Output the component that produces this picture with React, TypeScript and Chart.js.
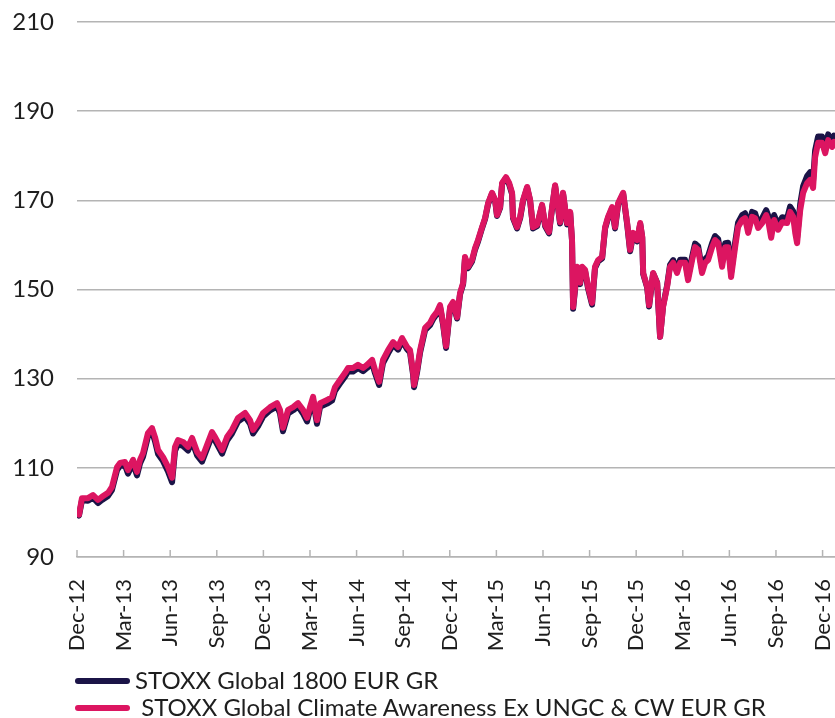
import React, { useEffect, useRef } from "react";
import { Chart, registerables } from "chart.js";

Chart.register(...registerables);

// Quarter tick labels (one every 3 months, starting Dec-12)
const quarterLabels = [
  "Dec-12", "Mar-13", "Jun-13", "Sep-13", "Dec-13", "Mar-14", "Jun-14", "Sep-14",
  "Dec-14", "Mar-15", "Jun-15", "Sep-15", "Dec-15", "Mar-16", "Jun-16", "Sep-16", "Dec-16",
];

// Time position of each observation, in months since Dec-12
const months = [
  0.00, 0.13, 0.32, 0.71, 1.03, 1.35, 1.61, 2.00, 2.25, 2.58, 2.77, 3.09, 3.28, 3.61, 3.86, 4.06,
  4.25, 4.57, 4.83, 5.02, 5.22, 5.54, 5.86, 6.12, 6.31, 6.50, 6.83, 7.15, 7.41, 7.73, 8.05, 8.37,
  8.69, 8.89, 9.34, 9.66, 9.98, 10.37, 10.82, 11.14, 11.33, 11.65, 11.98, 12.43, 12.88, 13.07, 13.26, 13.59,
  13.91, 14.23, 14.55, 14.81, 15.00, 15.20, 15.45, 15.65, 16.10, 16.42, 16.61, 16.93, 17.26, 17.45, 17.77, 18.09,
  18.42, 18.67, 19.00, 19.19, 19.45, 19.70, 20.03, 20.35, 20.67, 20.93, 21.25, 21.44, 21.64, 21.70, 21.89, 22.09,
  22.41, 22.73, 22.92, 23.18, 23.37, 23.57, 23.76, 24.02, 24.21, 24.47, 24.66, 24.86, 24.98, 25.18, 25.43, 25.63,
  25.82, 26.08, 26.27, 26.47, 26.72, 26.92, 27.04, 27.24, 27.37, 27.62, 27.82, 28.01, 28.07, 28.33, 28.53, 28.72,
  28.98, 29.17, 29.36, 29.62, 29.94, 30.14, 30.39, 30.59, 30.78, 30.97, 31.10, 31.29, 31.55, 31.75, 31.87, 31.94,
  32.20, 32.39, 32.52, 32.71, 32.90, 33.16, 33.35, 33.55, 33.81, 34.00, 34.19, 34.45, 34.64, 34.84, 35.16, 35.42,
  35.61, 35.81, 36.06, 36.26, 36.39, 36.45, 36.71, 36.83, 37.09, 37.35, 37.54, 37.73, 37.99, 38.18, 38.38, 38.63,
  38.83, 39.15, 39.34, 39.60, 39.79, 39.99, 40.24, 40.44, 40.63, 40.89, 41.08, 41.28, 41.53, 41.73, 41.92, 42.11,
  42.37, 42.56, 42.82, 43.01, 43.21, 43.46, 43.66, 43.85, 44.11, 44.37, 44.49, 44.69, 44.88, 45.14, 45.40, 45.72,
  45.91, 46.11, 46.24, 46.36, 46.56, 46.75, 47.01, 47.20, 47.39, 47.52, 47.71, 47.97, 48.17, 48.36, 48.62, 48.74,
];

// STOXX Global 1800 EUR GR
const global1800 = [
  100.0, 99.3, 102.7, 102.6, 103.3, 102.1, 102.8, 103.7, 105.0, 109.5, 110.4, 110.6, 108.7, 111.0, 108.3, 111.0,
  112.5, 117.0, 118.1, 116.0, 113.1, 111.5, 109.2, 106.8, 113.8, 115.3, 114.9, 113.9, 115.9, 112.8, 111.4, 114.3,
  117.2, 116.1, 113.2, 116.1, 117.7, 120.4, 121.5, 119.9, 117.7, 119.3, 121.5, 122.9, 123.8, 122.2, 118.2, 122.2,
  122.9, 123.8, 122.2, 120.4, 122.9, 125.1, 119.9, 123.7, 124.4, 125.1, 127.3, 128.9, 130.5, 131.6, 131.6, 132.4,
  131.7, 132.4, 133.5, 131.2, 128.6, 133.5, 135.7, 137.6, 136.5, 138.5, 136.6, 135.9, 130.8, 128.1, 131.4, 135.9,
  140.9, 142.0, 143.3, 144.6, 146.1, 142.1, 136.9, 145.8, 146.9, 143.5, 148.9, 151.2, 157.0, 154.8, 156.3, 159.0,
  160.8, 163.8, 165.8, 169.2, 171.5, 169.9, 166.5, 168.3, 173.7, 175.0, 173.6, 171.4, 166.0, 163.7, 166.0, 169.9,
  172.8, 169.9, 163.7, 164.2, 168.8, 164.2, 162.6, 168.3, 173.2, 168.3, 164.8, 171.5, 164.6, 167.2, 160.8, 145.7,
  154.8, 151.2, 154.8, 154.1, 150.3, 146.6, 154.8, 156.3, 157.0, 163.7, 166.0, 168.2, 163.7, 169.1, 171.5, 164.6,
  158.6, 162.4, 160.8, 164.7, 161.6, 153.5, 150.4, 146.2, 153.6, 151.5, 139.4, 146.3, 150.9, 155.5, 156.6, 154.4,
  156.7, 156.7, 152.8, 157.3, 160.3, 159.7, 154.5, 156.8, 157.5, 160.4, 162.0, 161.3, 156.0, 160.4, 160.5, 153.8,
  160.5, 165.0, 166.7, 167.1, 163.8, 167.4, 167.1, 164.9, 166.0, 167.8, 166.7, 162.7, 166.7, 164.5, 166.2, 166.0,
  168.6, 167.5, 163.9, 161.6, 169.2, 173.2, 175.5, 176.3, 174.5, 181.2, 184.3, 184.3, 182.0, 184.8, 183.3, 184.5,
];

// STOXX Global Climate Awareness Ex UNGC & CW EUR GR
const climateAwareness = [
  100.0, 99.5, 103.2, 103.2, 103.9, 102.8, 103.5, 104.4, 105.7, 110.2, 111.1, 111.3, 109.5, 111.8, 109.1, 111.8,
  113.3, 117.8, 118.9, 116.9, 114.0, 112.4, 110.2, 107.8, 114.7, 116.2, 115.8, 114.7, 116.7, 113.6, 112.2, 115.1,
  118.0, 116.9, 114.0, 116.9, 118.5, 121.2, 122.3, 120.7, 118.5, 120.1, 122.3, 123.6, 124.5, 123.0, 119.0, 123.0,
  123.6, 124.5, 123.0, 121.2, 123.6, 125.9, 120.7, 124.5, 125.2, 125.9, 128.1, 129.7, 131.3, 132.4, 132.4, 133.1,
  132.4, 133.1, 134.2, 131.9, 129.3, 134.2, 136.4, 138.2, 137.1, 139.1, 137.1, 136.4, 131.3, 128.6, 131.9, 136.4,
  141.4, 142.5, 143.8, 145.0, 146.5, 142.5, 137.3, 146.1, 147.2, 143.8, 149.2, 151.5, 157.3, 155.1, 156.6, 159.3,
  161.1, 164.0, 166.0, 169.4, 171.7, 170.1, 166.7, 168.5, 173.9, 175.2, 173.9, 171.7, 166.3, 164.0, 166.3, 170.1,
  173.0, 170.1, 164.0, 164.5, 169.0, 164.5, 162.9, 168.5, 173.4, 168.5, 165.1, 171.7, 164.9, 167.4, 161.1, 146.1,
  155.1, 151.5, 155.1, 154.4, 150.6, 147.0, 155.1, 156.6, 157.3, 164.0, 166.3, 168.5, 164.0, 169.4, 171.7, 164.9,
  158.9, 162.7, 161.1, 164.9, 161.8, 153.7, 150.6, 146.5, 153.7, 151.5, 139.4, 146.1, 150.6, 155.1, 156.0, 153.7,
  156.0, 156.0, 152.1, 156.6, 159.5, 158.9, 153.7, 156.0, 156.6, 159.5, 161.1, 160.4, 155.1, 159.5, 159.5, 152.8,
  159.5, 164.0, 165.6, 166.0, 162.7, 166.3, 166.0, 163.8, 164.9, 166.7, 165.6, 161.6, 165.6, 163.4, 165.1, 164.9,
  167.4, 166.3, 162.7, 160.4, 167.8, 171.7, 173.9, 174.6, 172.8, 179.7, 182.9, 182.9, 180.6, 183.5, 182.0, 183.1,
];

const seriesNames = [
  "STOXX Global 1800 EUR GR",
  " STOXX Global Climate Awareness Ex UNGC & CW EUR GR",
];

const NAVY = "#1b1447";
const MAGENTA = "#dc1561";
const GRID = "#b4b4b4";
const TEXT = "#1e1e1e";
const FONT = "Lato, 'Open Sans', sans-serif";

export default function App() {
  const canvasRef = useRef<HTMLCanvasElement>(null);

  useEffect(() => {
    if (!canvasRef.current) return;

    const insideTicks = {
      id: "insideTicks",
      beforeDatasetsDraw(chart: any) {
        const xs = chart.scales.x;
        const ctx = chart.ctx;
        const bottom = chart.chartArea.bottom;
        ctx.save();
        ctx.strokeStyle = GRID;
        ctx.lineWidth = 1.5;
        xs.ticks.forEach((t: any) => {
          const px = xs.getPixelForValue(t.value);
          ctx.beginPath();
          ctx.moveTo(px, bottom);
          ctx.lineTo(px, bottom - 7);
          ctx.stroke();
        });
        ctx.restore();
      },
    };

    const lineStyle = {
      borderWidth: 6,
      pointRadius: 0,
      tension: 0,
      borderJoinStyle: "round" as const,
      borderCapStyle: "round" as const,
    };

    const chart = new Chart(canvasRef.current, {
      type: "line",
      data: {
        datasets: [
          {
            label: seriesNames[0],
            data: months.map((m, i) => ({ x: m, y: global1800[i] })),
            borderColor: NAVY,
            backgroundColor: NAVY,
            ...lineStyle,
            order: 2,
          },
          {
            label: seriesNames[1],
            data: months.map((m, i) => ({ x: m, y: climateAwareness[i] })),
            borderColor: MAGENTA,
            backgroundColor: MAGENTA,
            ...lineStyle,
            order: 1,
          },
        ],
      },
      options: {
        animation: false,
        responsive: true,
        maintainAspectRatio: false,
        layout: { padding: { top: 22, right: 0, bottom: 61, left: 0 } },
        plugins: {
          legend: { display: false },
          tooltip: { enabled: false },
        },
        scales: {
          x: {
            type: "linear",
            min: 0,
            max: 48.8,
            afterFit: (scale: any) => {
              scale.height = 100;
              scale.paddingLeft = 0;
              scale.paddingRight = 0;
            },
            grid: { display: false },
            border: { display: true, color: GRID, width: 1.5 },
            ticks: {
              stepSize: 3,
              includeBounds: false,
              autoSkip: false,
              maxRotation: 90,
              minRotation: 90,
              padding: 14,
              color: TEXT,
              font: { family: FONT, size: 22 },
              callback: (v: any) => {
                const idx = Math.round(Number(v) / 3);
                return quarterLabels[idx] ?? "";
              },
            },
          },
          y: {
            min: 90,
            max: 210,
            afterFit: (scale: any) => {
              scale.width = 77;
              scale.paddingTop = 0;
              scale.paddingBottom = 0;
            },
            grid: { color: GRID, lineWidth: 1.5, drawTicks: false },
            border: { display: false },
            ticks: {
              stepSize: 20,
              padding: 23,
              color: TEXT,
              font: { family: FONT, size: 24 },
            },
          },
        },
      },
      plugins: [insideTicks],
    });

    return () => chart.destroy();
  }, []);

  const legendText: React.CSSProperties = {
    position: "absolute",
    left: 135,
    fontFamily: FONT,
    fontSize: 24,
    lineHeight: "28px",
    color: TEXT,
    whiteSpace: "pre",
  };
  const legendLine: React.CSSProperties = {
    position: "absolute",
    left: 75,
    width: 55,
    height: 6,
    borderRadius: 3,
  };

  return (
    <div style={{ position: "absolute", left: 0, top: 0, width: 835, height: 718, background: "#fff" }}>
      <canvas ref={canvasRef} />
      <div style={{ ...legendLine, top: 678, background: NAVY }} />
      <div style={{ ...legendText, top: 666 }}>{seriesNames[0]}</div>
      <div style={{ ...legendLine, top: 705, background: MAGENTA }} />
      <div style={{ ...legendText, top: 693 }}>{seriesNames[1]}</div>
    </div>
  );
}
